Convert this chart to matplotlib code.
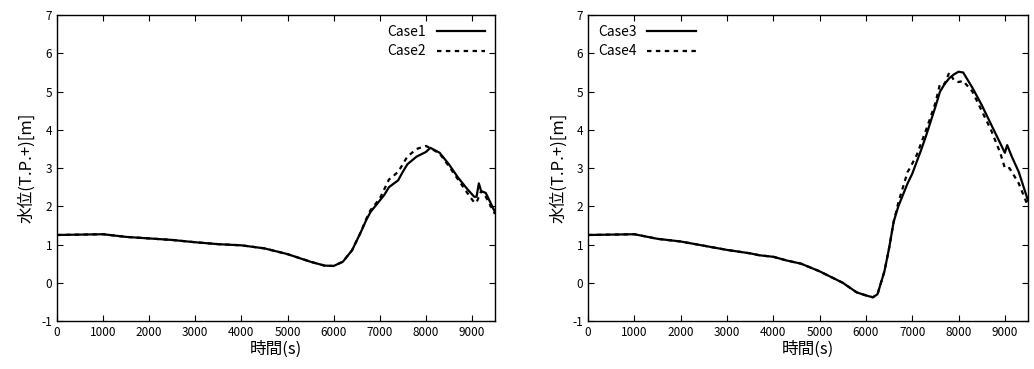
import matplotlib
matplotlib.use('Agg')
import matplotlib.pyplot as plt

plt.rcParams['font.family'] = ['Noto Sans CJK JP', 'DejaVu Sans']
plt.rcParams['axes.unicode_minus'] = False

# left panel
t12 = [0, 500, 1000, 1500, 2000, 2500, 3000, 3500, 4000, 4500, 5000, 5500, 5800, 6000,
       6200, 6400, 6600]
base12 = [1.25, 1.26, 1.27, 1.2, 1.16, 1.12, 1.06, 1.01, 0.98, 0.9, 0.75, 0.55, 0.45, 0.44,
          0.55, 0.85, 1.35]
t1_tail = [6700, 6800, 7000, 7100, 7200, 7400, 7500, 7600, 7800, 8000, 8100, 8300, 8500, 8700,
           8900, 9050, 9100, 9150, 9200, 9300, 9400, 9500]
case1_tail = [1.62, 1.85, 2.15, 2.3, 2.5, 2.68, 2.9, 3.1, 3.3, 3.42, 3.53, 3.4, 3.1, 2.75,
              2.45, 2.25, 2.25, 2.6, 2.4, 2.35, 2.1, 1.85]
t2_tail = [6700, 6800, 7000, 7200, 7400, 7600, 7800, 8000, 8100, 8300, 8500, 8700, 8900, 9050,
           9100, 9200, 9300, 9500]
case2_tail = [1.65, 1.9, 2.2, 2.7, 2.9, 3.3, 3.5, 3.58, 3.52, 3.38, 3.05, 2.7, 2.35, 2.1,
              2.1, 2.4, 2.25, 1.8]

# right panel
t34 = [0, 1000, 1500, 2000, 2500, 3000, 3500, 3700, 4000, 4300, 4600, 5000, 5500, 5800,
       6000, 6150, 6250, 6400, 6500, 6600]
base34 = [1.25, 1.27, 1.15, 1.08, 0.97, 0.86, 0.77, 0.72, 0.68, 0.58, 0.5, 0.3, 0.0, -0.25,
          -0.33, -0.38, -0.3, 0.3, 0.9, 1.6]
t3_tail = [6700, 6900, 7000, 7200, 7300, 7500, 7600, 7700, 7800, 7900, 8000, 8100, 8300,
           8500, 8700, 8900, 9000, 9050, 9150, 9300, 9500]
case3_tail = [2.0, 2.6, 2.85, 3.5, 3.85, 4.6, 5.0, 5.2, 5.35, 5.45, 5.52, 5.5, 5.1,
              4.65, 4.15, 3.65, 3.4, 3.6, 3.3, 2.9, 2.15]
t4_tail = [6700, 6900, 6950, 7100, 7300, 7500, 7600, 7700, 7750, 7800, 7900, 8000, 8100,
           8300, 8500, 8700, 8900, 9000, 9100, 9300, 9500]
case4_tail = [2.1, 2.9, 3.0, 3.35, 4.0, 4.7, 5.2, 5.2, 5.35, 5.5, 5.3, 5.25, 5.28,
              5.0, 4.5, 4.0, 3.4, 3.0, 3.0, 2.6, 2.0]

xticks = list(range(0, 10000, 1000))
yticks = list(range(-1, 8))

fig = plt.figure(figsize=(10.34, 3.69), dpi=100)
ax1 = fig.add_axes([0.0551, 0.130, 0.4236, 0.829])
ax2 = fig.add_axes([0.5687, 0.130, 0.4255, 0.829])

panels = [
    (ax1, ('Case1', t12 + t1_tail, base12 + case1_tail),
     ('Case2', t12 + t2_tail, base12 + case2_tail), 'upper right'),
    (ax2, ('Case3', t34 + t3_tail, base34 + case3_tail),
     ('Case4', t34 + t4_tail, base34 + case4_tail), 'upper left'),
]

for ax, solid, dashed, loc in panels:
    ax.plot(solid[1], solid[2], color='black', lw=1.6, label=solid[0])
    ax.plot(dashed[1], dashed[2], color='black', lw=1.6, ls=(0, (2, 2)), label=dashed[0])
    ax.set_xlim(0, 9500)
    ax.set_ylim(-1, 7)
    ax.set_xticks(xticks)
    ax.set_yticks(yticks)
    ax.tick_params(direction='in', top=True, right=True, labelsize=8.5, length=4)
    for s in ax.spines.values():
        s.set_linewidth(1.0)
    ax.set_xlabel('時間(s)', fontsize=12, labelpad=1)
    ax.set_ylabel('水位(T.P.+)[m]', fontsize=12, labelpad=4)
    ax.legend(loc=loc, frameon=False, markerfirst=False, fontsize=10,
              handlelength=3.5, borderaxespad=0.3, labelspacing=0.4)

fig.savefig('out.png', dpi=100)
